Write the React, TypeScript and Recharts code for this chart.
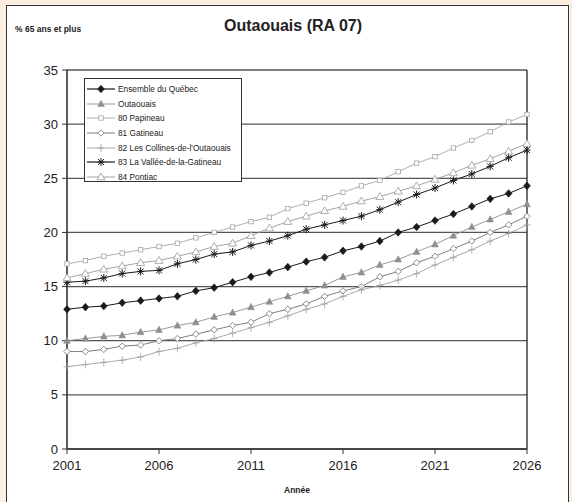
import React from "react";
import { LineChart, Line, XAxis, YAxis, CartesianGrid, ReferenceLine, Legend } from "recharts";

const years = [2001,2002,2003,2004,2005,2006,2007,2008,2009,2010,2011,2012,2013,2014,2015,2016,2017,2018,2019,2020,2021,2022,2023,2024,2025,2026];
const quebec = [12.9,13.1,13.2,13.5,13.7,13.9,14.1,14.6,14.9,15.4,15.9,16.3,16.8,17.3,17.7,18.3,18.7,19.2,20.0,20.5,21.1,21.7,22.4,23.1,23.6,24.3];
const outaouais = [10.0,10.2,10.4,10.5,10.8,11.0,11.4,11.7,12.2,12.6,13.1,13.6,14.1,14.6,15.1,15.9,16.3,17.0,17.5,18.2,18.9,19.7,20.5,21.2,21.9,22.6];
const papineau = [17.1,17.4,17.8,18.1,18.4,18.7,19.0,19.5,20.0,20.5,21.0,21.4,22.2,22.7,23.2,23.7,24.3,24.8,25.6,26.4,27.0,27.8,28.5,29.3,30.2,30.9];
const gatineau = [9.0,9.0,9.2,9.5,9.6,10.0,10.2,10.6,11.0,11.4,11.7,12.5,12.9,13.4,14.1,14.6,15.0,15.9,16.4,17.2,17.8,18.5,19.2,20.0,20.7,21.5];
const collines = [7.6,7.8,8.0,8.2,8.5,9.0,9.3,9.8,10.2,10.7,11.2,11.7,12.3,12.9,13.4,14.1,14.7,15.1,15.6,16.2,17.0,17.7,18.4,19.2,19.9,20.7];
const vallee = [15.4,15.5,15.8,16.2,16.4,16.5,17.1,17.5,18.0,18.2,18.8,19.2,19.7,20.3,20.7,21.1,21.5,22.1,22.8,23.5,24.1,24.8,25.4,26.1,26.9,27.6];
const pontiac = [15.8,16.2,16.6,16.9,17.2,17.4,17.8,18.2,18.7,19.0,19.7,20.4,21.0,21.5,22.0,22.4,22.9,23.3,23.8,24.3,24.9,25.5,26.2,26.8,27.5,28.2];

const xTicks = [2001, 2006, 2011, 2016, 2021, 2026];
const yTicks = [0, 5, 10, 15, 20, 25, 30, 35];

const FONT = "'Liberation Sans', Arial, Helvetica, sans-serif";

type MarkerType = "diamondFill" | "triFill" | "square" | "diamondOpen" | "plus" | "star" | "triOpen";

const seriesDefs: { key: string; name: string; color: string; marker: MarkerType; data: number[]; width: number }[] = [
  { key: "quebec", name: "Ensemble du Québec", color: "#1a1a1a", marker: "diamondFill", data: quebec, width: 1 },
  { key: "outaouais", name: "Outaouais", color: "#8f8f8f", marker: "triFill", data: outaouais, width: 0.9 },
  { key: "papineau", name: "80 Papineau", color: "#a6a6a6", marker: "square", data: papineau, width: 0.9 },
  { key: "gatineau", name: "81 Gatineau", color: "#707070", marker: "diamondOpen", data: gatineau, width: 0.9 },
  { key: "collines", name: "82 Les Collines-de-l'Outaouais", color: "#a0a0a0", marker: "plus", data: collines, width: 0.9 },
  { key: "vallee", name: "83 La Vallée-de-la-Gatineau", color: "#1a1a1a", marker: "star", data: vallee, width: 1 },
  { key: "pontiac", name: "84 Pontiac", color: "#9a9a9a", marker: "triOpen", data: pontiac, width: 0.9 },
];

const tableData = years.map((y, i) => {
  const row: Record<string, number> = { year: y };
  seriesDefs.forEach((s) => { row[s.key] = s.data[i]; });
  return row;
});

function MarkerShape({ type, cx, cy, color }: { type: MarkerType; cx: number; cy: number; color: string }) {
  switch (type) {
    case "diamondFill":
      return <polygon points={`${cx},${cy - 3.8} ${cx + 3.4},${cy} ${cx},${cy + 3.8} ${cx - 3.4},${cy}`} fill={color} stroke={color} strokeWidth={0.6} />;
    case "triFill":
      return <polygon points={`${cx},${cy - 3.8} ${cx + 3.4},${cy + 2.6} ${cx - 3.4},${cy + 2.6}`} fill={color} stroke={color} strokeWidth={0.5} />;
    case "square":
      return <rect x={cx - 2.2} y={cy - 2.2} width={4.4} height={4.4} fill="#fff" stroke={color} strokeWidth={0.8} />;
    case "diamondOpen":
      return <polygon points={`${cx},${cy - 3.2} ${cx + 3.2},${cy} ${cx},${cy + 3.2} ${cx - 3.2},${cy}`} fill="#fff" stroke={color} strokeWidth={0.8} />;
    case "plus":
      return (
        <g stroke={color} strokeWidth={0.8}>
          <line x1={cx - 3.5} y1={cy} x2={cx + 3.5} y2={cy} />
          <line x1={cx} y1={cy - 4} x2={cx} y2={cy + 4} />
        </g>
      );
    case "star":
      return (
        <g stroke={color} strokeWidth={1}>
          <line x1={cx - 3.5} y1={cy} x2={cx + 3.5} y2={cy} />
          <line x1={cx} y1={cy - 4} x2={cx} y2={cy + 4} />
          <line x1={cx - 3} y1={cy - 3} x2={cx + 3} y2={cy + 3} />
          <line x1={cx - 3} y1={cy + 3} x2={cx + 3} y2={cy - 3} />
        </g>
      );
    case "triOpen":
      return <polygon points={`${cx},${cy - 4} ${cx + 4},${cy + 2.8} ${cx - 4},${cy + 2.8}`} fill="#fff" stroke={color} strokeWidth={0.8} />;
  }
  return null;
}

function LegendBox() {
  return (
    <div style={{ width: 158, height: 104, border: "1px solid #333", background: "#fff", boxSizing: "border-box", paddingTop: 3 }}>
      {seriesDefs.map((s) => (
        <div key={s.key} style={{ display: "flex", alignItems: "center", height: 14.6 }}>
          <svg width={30} height={12} style={{ marginLeft: 1 }}>
            <line x1={1} y1={6} x2={29} y2={6} stroke={s.color} strokeWidth={s.color === "#1a1a1a" ? 1.2 : 0.9} />
            <MarkerShape type={s.marker} cx={15} cy={6} color={s.color} />
          </svg>
          <span style={{ fontFamily: FONT, fontSize: 8.3, color: "#222", marginLeft: 2, whiteSpace: "nowrap" }}>{s.name}</span>
        </div>
      ))}
    </div>
  );
}

export default function App() {
  return (
    <div style={{ position: "fixed", left: 0, top: 0, width: 572, height: 502, background: "#fcefe1", overflow: "hidden" }}>
      <div style={{ position: "absolute", left: 6, top: 5, width: 563, height: 510, background: "#fff", border: "1.5px solid #333", boxSizing: "border-box" }} />
      <div style={{ position: "absolute", left: 15, top: 24, fontFamily: FONT, fontSize: 8.5, fontWeight: "bold", color: "#222" }}>% 65 ans et plus</div>
      <div style={{ position: "absolute", left: 0, width: 586, top: 17, textAlign: "center", fontFamily: FONT, fontSize: 16, fontWeight: "bold", color: "#222" }}>Outaouais (RA 07)</div>
      <div style={{ position: "absolute", left: 0, width: 594, top: 485, textAlign: "center", fontFamily: FONT, fontSize: 8.5, fontWeight: "bold", color: "#222" }}>Année</div>
      <div style={{ position: "absolute", left: 0, top: 0 }}>
        <LineChart width={572} height={502} data={tableData} margin={{ top: 70, right: 45, bottom: 23, left: 0 }}>
          <CartesianGrid horizontal vertical={false} stroke="#555" strokeWidth={1.3} />
          <ReferenceLine x={2026} stroke="#222" strokeWidth={1.3} />
          <XAxis
            dataKey="year"
            type="number"
            domain={[2001, 2026]}
            ticks={xTicks}
            height={30}
            axisLine={{ stroke: "#333", strokeWidth: 1.6 }}
            tickLine={{ stroke: "#333", strokeWidth: 1 }}
            tickSize={5}
            tick={{ fontFamily: FONT, fontSize: 13, fill: "#222" }}
            tickMargin={7}
            interval={0}
          />
          <YAxis
            type="number"
            domain={[0, 35]}
            ticks={yTicks}
            width={67}
            axisLine={{ stroke: "#333", strokeWidth: 1.6 }}
            tickLine={{ stroke: "#333", strokeWidth: 1 }}
            tickSize={5}
            tick={{ fontFamily: FONT, fontSize: 13, fill: "#222" }}
            tickMargin={4}
            interval={0}
          />
          <Legend
            layout="horizontal"
            verticalAlign="middle"
            align="center"
            content={() => <LegendBox />}
            wrapperStyle={{ position: "absolute", left: 84, top: 78, width: 158, height: 104 }}
          />
          {seriesDefs.map((s) => (
            <Line
              key={s.key}
              dataKey={s.key}
              name={s.name}
              stroke={s.color}
              strokeWidth={s.width}
              isAnimationActive={false}
              activeDot={false}
              dot={(p: any) => <MarkerShape key={`${s.key}-${p.index}`} type={s.marker} cx={p.cx} cy={p.cy} color={s.color} />}
            />
          ))}
        </LineChart>
      </div>
    </div>
  );
}
